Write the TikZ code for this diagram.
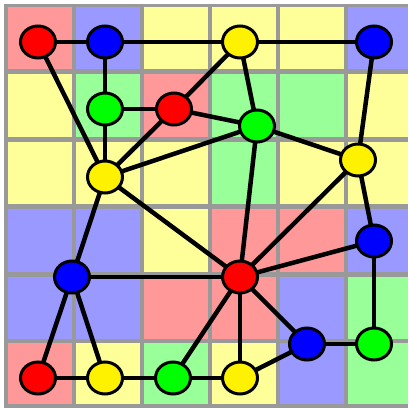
\documentclass[tikz,border=0pt]{standalone}
\usetikzlibrary{shapes.geometric}
\definecolor{cr}{HTML}{FF9999}
\definecolor{cb}{HTML}{9999FF}
\definecolor{cy}{HTML}{FFFF99}
\definecolor{cg}{HTML}{99FF99}
\definecolor{gridgray}{HTML}{999999}
\pgfdeclarelayer{cells}
\pgfdeclarelayer{edges}
\pgfsetlayers{cells,edges,main}
\tikzset{
  vtx/.style={ellipse, draw=black, line width=3pt, minimum width=35pt, minimum height=32pt, inner sep=0pt},
  vr/.style={vtx, fill=red},
  vb/.style={vtx, fill=blue},
  vy/.style={vtx, fill=yellow},
  vg/.style={vtx, fill=green},
  edge/.style={line width=4.5pt, black}
}
\begin{document}
\begin{tikzpicture}[x=1pt,y=-1pt]
\useasboundingbox (0,0) rectangle (408,409);
\begin{pgfonlayer}{cells}
\fill[white] (0,0) rectangle (408,409);
\fill[gridgray] (4,4) rectangle (408,408);
\def\rowtops{{7,74,142,209,277,343}}
\def\rowbots{{69,137,204,272,339,404}}
\foreach \row/\cols in {0/{cr,cb,cy,cy,cy,cb},1/{cy,cg,cr,cg,cg,cy},2/{cy,cy,cy,cg,cy,cy},3/{cb,cb,cy,cr,cr,cb},4/{cb,cb,cr,cr,cb,cg},5/{cr,cy,cg,cy,cb,cg}}{
  \foreach \c [count=\i from 0] in \cols {
    \pgfmathsetmacro{\xa}{8+68*\i}
    \pgfmathsetmacro{\xb}{min(72+68*\i,408)}
    \pgfmathsetmacro{\ya}{\rowtops[\row]}
    \pgfmathsetmacro{\yb}{\rowbots[\row]}
    \fill[\c] (\xa,\ya) rectangle (\xb,\yb);
  }
}
\end{pgfonlayer}
\node[vr] (A) at (38,42) {};
\node[vb] (B) at (105,42) {};
\node[vy] (C) at (240,42) {};
\node[vb] (D) at (374,42) {};
\node[vg] (E) at (105,109) {};
\node[vr] (F) at (174,109) {};
\node[vg] (G) at (257,126) {};
\node[vy] (H) at (358,160) {};
\node[vy] (I) at (105,177) {};
\node[vb] (J) at (374,241) {};
\node[vb] (K) at (72,277) {};
\node[vr] (L) at (240,277) {};
\node[vb] (M) at (307,344) {};
\node[vg] (N) at (374,344) {};
\node[vr] (O) at (38,378) {};
\node[vy] (P) at (105,378) {};
\node[vg] (Q) at (173,378) {};
\node[vy] (R) at (240,378) {};
\begin{pgfonlayer}{edges}
\foreach \a/\b in {A/B,B/C,C/D,A/I,B/E,E/F,E/I,F/I,F/C,F/G,C/G,G/I,G/H,D/H,G/L,H/L,H/J,I/L,I/K,K/L,K/O,K/P,O/P,P/Q,Q/R,Q/L,L/R,L/M,L/J,J/N,M/N,R/M}
  \draw[edge] (\a.center) -- (\b.center);
\end{pgfonlayer}
\end{tikzpicture}
\end{document}
